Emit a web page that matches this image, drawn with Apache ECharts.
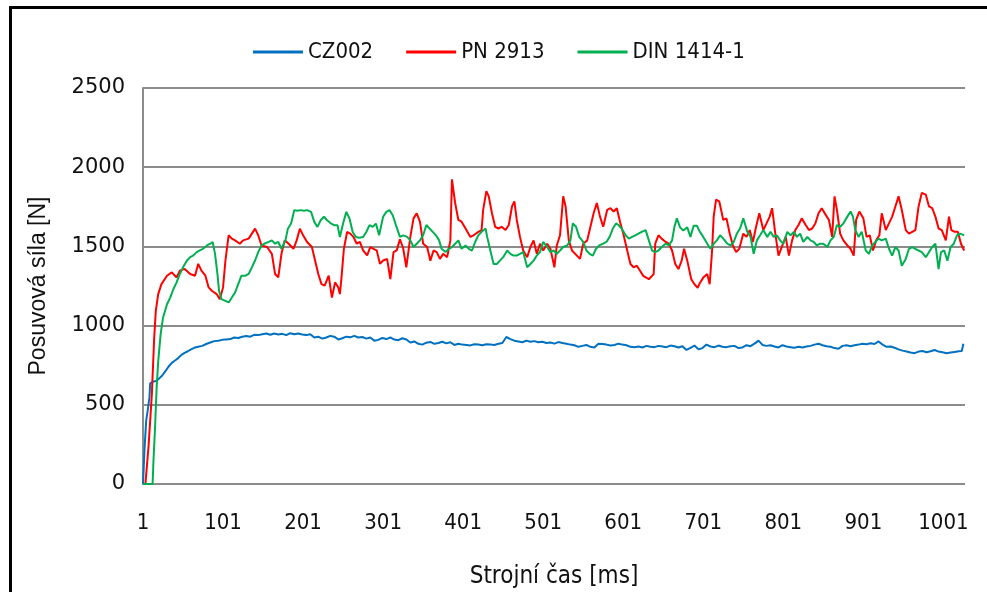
<!DOCTYPE html>
<html>
<head>
<meta charset="utf-8">
<script src="https://cdn.jsdelivr.net/npm/echarts@6/dist/echarts.min.js"></script>
<style>
html,body{margin:0;padding:0;background:#fff;}
#chart{width:987px;height:592px;}
</style>
</head>
<body>
<div id="chart"></div>
<script>
// Data (time in ms, force in N)
const seriesNames = ["CZ002", "PN 2913", "DIN 1414-1"];
const xTickLabels = ["1","101","201","301","401","501","601","701","801","901","1001"];
const yTickLabels = [0, 500, 1000, 1500, 2000, 2500];

const czTime = [1,3,5,7,9,10,13,17,21,25,29,33,37,41,45,49,53,57,61,65,70,75,80,85,90,95,100,105,110,115,120,125,130,135,140,145,150,155,160,165,170,175,180,185,190,195,200,205,210,215,220,225,230,235,240,245,250,255,260,265,270,275,280,285,290,295,300,305,310,315,320,325,330,335,340,345,350,355,360,365,370,375,380,385,390,395,400,405,410,415,420,425,430,435,440,445,450,455,460,465,470,475,480,485,490,495,500,505,510,515,520,525,530,535,540,545,550,555,560,565,570,575,580,585,590,595,600,605,610,615,620,625,630,635,640,645,650,655,660,665,670,675,680,685,690,695,700,705,710,715,720,725,730,735,740,745,750,755,760,765,770,775,780,785,790,795,800,805,810,815,820,825,830,835,840,845,850,855,860,865,870,875,880,885,890,895,900,905,910,915,920,925,930,935,940,945,950,955,960,965,970,975,980,985,990,995,1000,1005,1010,1015,1020,1024,1026];
const czForce = [0,230,400,470,545,635,645,650,665,685,712,742,765,780,795,815,828,838,850,860,866,872,884,893,902,905,910,913,915,925,922,930,934,930,942,940,946,950,942,950,944,948,940,952,945,950,944,940,946,925,930,918,925,935,930,912,920,930,926,935,925,928,918,925,905,910,922,915,925,912,908,920,912,893,900,885,880,892,897,885,890,898,888,895,878,885,880,878,875,882,880,876,882,880,878,885,890,928,915,905,900,895,905,898,902,895,898,890,893,886,896,890,886,880,876,866,872,878,866,862,886,884,880,874,878,886,880,876,866,864,868,862,872,866,864,872,868,864,874,870,862,870,846,860,874,850,858,880,868,864,874,866,864,870,872,858,862,876,870,886,905,878,872,876,868,862,876,868,864,860,866,862,868,872,880,886,876,870,866,858,854,872,876,870,876,880,886,882,888,884,900,880,866,868,860,850,842,836,830,826,836,840,832,838,846,836,832,826,830,834,838,840,885];

const pnTime = [1,4,8,12,15,17,20,24,31,37,43,47,53,60,66,70,74,79,83,87,93,97,101,104,108,112,116,122,126,133,141,145,149,156,162,166,170,174,178,183,189,193,197,201,206,212,216,220,224,228,233,237,241,245,247,249,252,256,260,264,268,272,276,281,285,289,293,297,301,306,310,314,318,322,326,330,335,339,343,347,351,356,360,364,368,372,376,381,385,387,391,395,399,404,410,414,420,424,426,430,433,437,441,445,449,454,458,462,465,468,472,476,481,485,489,493,497,501,506,510,515,518,522,526,529,533,537,541,547,551,556,560,564,568,572,576,581,585,589,593,597,601,606,610,614,618,622,626,633,639,641,645,649,654,658,662,666,670,674,677,681,686,690,694,697,701,706,709,712,714,717,721,726,730,734,738,742,746,751,755,759,763,767,771,776,780,784,787,791,795,799,804,808,812,816,820,824,829,833,837,841,845,849,854,858,862,865,868,872,876,881,885,889,892,896,901,905,909,913,917,921,924,929,933,937,941,945,949,954,958,962,966,970,974,979,983,987,991,995,999,1004,1008,1011,1015,1019,1023,1027];
const pnForce = [0,0,244,562,923,1093,1199,1262,1315,1336,1304,1347,1358,1326,1315,1390,1347,1315,1241,1220,1199,1167,1241,1411,1570,1549,1538,1517,1538,1549,1612,1570,1506,1496,1453,1326,1304,1453,1538,1517,1485,1538,1612,1570,1528,1496,1411,1326,1262,1252,1315,1177,1273,1241,1199,1304,1485,1591,1581,1559,1517,1528,1475,1443,1496,1485,1475,1390,1411,1421,1294,1464,1475,1545,1490,1368,1560,1677,1709,1656,1517,1496,1410,1474,1464,1421,1453,1432,1538,1923,1774,1667,1656,1613,1560,1570,1592,1603,1731,1848,1816,1709,1624,1613,1624,1603,1635,1752,1784,1667,1560,1474,1432,1496,1538,1453,1517,1474,1517,1485,1368,1506,1570,1816,1752,1538,1474,1453,1421,1517,1538,1624,1709,1774,1688,1624,1731,1741,1720,1741,1656,1581,1474,1389,1368,1378,1346,1314,1293,1325,1517,1570,1549,1528,1517,1474,1389,1357,1410,1485,1410,1293,1261,1239,1271,1303,1325,1261,1474,1688,1795,1784,1667,1677,1581,1506,1464,1485,1581,1560,1603,1528,1624,1709,1603,1645,1688,1741,1581,1442,1496,1560,1442,1538,1603,1635,1677,1635,1603,1613,1645,1709,1741,1699,1667,1560,1816,1731,1581,1538,1506,1485,1442,1667,1720,1677,1560,1570,1474,1538,1570,1709,1603,1645,1688,1752,1816,1731,1603,1581,1592,1603,1752,1838,1827,1752,1741,1688,1613,1603,1538,1688,1603,1592,1592,1517,1474];

const dinTime = [1,13,14,16,18,20,23,26,31,35,39,43,47,51,56,60,64,68,72,76,81,85,88,91,94,96,99,104,108,112,116,120,124,129,133,137,141,145,149,154,158,162,166,170,174,179,182,186,190,194,198,202,206,211,215,219,223,227,231,236,240,244,247,251,255,259,263,267,271,276,280,284,288,292,296,301,305,309,313,317,322,326,331,335,339,343,347,351,355,359,363,367,371,374,379,383,387,391,395,399,404,408,412,416,420,424,429,431,435,439,443,447,451,456,460,464,468,472,476,481,485,489,493,497,501,506,510,514,518,522,526,531,535,538,542,546,551,555,559,563,567,571,576,580,584,588,592,595,599,604,608,612,616,620,624,629,633,637,641,645,649,654,658,662,665,668,672,676,681,685,689,693,697,701,706,710,714,718,722,726,731,735,739,743,747,751,756,760,764,768,772,776,781,785,789,793,797,801,806,810,814,818,822,826,831,835,839,843,847,851,856,860,864,868,872,876,881,885,888,891,895,899,904,908,912,916,920,924,929,933,937,941,945,949,954,958,962,966,970,974,979,983,987,991,995,998,1002,1006,1010,1014,1018,1022,1027];
const dinForce = [0,0,138,350,605,774,944,1050,1135,1177,1231,1273,1326,1368,1411,1432,1443,1464,1475,1485,1506,1517,1528,1453,1326,1220,1167,1156,1146,1177,1209,1262,1315,1315,1326,1368,1411,1464,1506,1521,1528,1538,1517,1528,1485,1538,1612,1644,1729,1725,1729,1725,1729,1718,1655,1623,1665,1687,1665,1644,1634,1634,1559,1644,1718,1676,1591,1559,1555,1559,1591,1634,1623,1644,1570,1687,1718,1729,1697,1634,1560,1570,1560,1538,1496,1517,1538,1570,1635,1613,1592,1570,1538,1485,1464,1485,1496,1517,1538,1485,1506,1485,1474,1528,1570,1592,1613,1560,1474,1389,1389,1410,1432,1474,1453,1442,1442,1453,1464,1368,1389,1410,1442,1464,1528,1496,1464,1474,1453,1474,1496,1506,1538,1645,1624,1560,1528,1474,1453,1442,1485,1506,1517,1528,1560,1613,1645,1635,1613,1570,1549,1560,1570,1581,1592,1603,1538,1474,1464,1474,1496,1517,1506,1538,1624,1677,1620,1600,1620,1560,1630,1630,1590,1560,1517,1485,1517,1538,1570,1549,1517,1506,1528,1581,1613,1677,1592,1560,1453,1538,1570,1603,1560,1592,1560,1570,1538,1517,1592,1570,1592,1560,1581,1528,1560,1538,1528,1506,1517,1517,1496,1538,1560,1635,1624,1645,1688,1720,1688,1603,1560,1592,1474,1453,1506,1528,1549,1538,1549,1485,1442,1496,1474,1378,1421,1485,1496,1485,1474,1464,1432,1464,1496,1517,1357,1464,1474,1410,1496,1517,1570,1581,1570];

function pairs(times, vals) {
  return times.map((t, i) => [t - 1, vals[i]]);
}

const chart = echarts.init(document.getElementById('chart'), null, {renderer: 'canvas'});
const narrow = '"Liberation Sans Narrow", "DejaVu Sans Condensed", "Liberation Sans", sans-serif';
const colors = ['#0070C0', '#FF0000', '#00B050'];

chart.setOption({
  animation: false,
  backgroundColor: '#ffffff',
  color: colors,
  graphic: [{
    type: 'rect', silent: true, z: -1,
    shape: {x: 10.5, y: 7.5, width: 1200, height: 800},
    style: {fill: 'none', stroke: '#000', lineWidth: 3}
  }],
  legend: {
    left: 248, top: 36,
    icon: 'rect', itemWidth: 50, itemHeight: 3, itemGap: 33,
    textStyle: {fontFamily: narrow, fontSize: 22, color: '#111'},
    data: seriesNames
  },
  grid: {left: 143, top: 88, width: 822, height: 396, containLabel: false, outerBoundsMode: 'none'},
  xAxis: {
    type: 'value', min: 0, max: 1027, interval: 100,
    name: 'Strojní čas [ms]', nameLocation: 'middle', nameGap: 81,
    nameTextStyle: {fontFamily: narrow, fontSize: 24, color: '#111'},
    axisLine: {show: false}, axisTick: {show: false}, splitLine: {show: false},
    axisLabel: {
      showMaxLabel: false, margin: 28,
      fontFamily: narrow, fontSize: 22, color: '#111',
      formatter: v => xTickLabels[Math.round(v / 100)] || ''
    }
  },
  yAxis: {
    type: 'value', min: yTickLabels[0], max: yTickLabels[yTickLabels.length - 1], interval: 500,
    name: 'Posuvová síla [N]', nameLocation: 'middle', nameGap: 93,
    nameTextStyle: {fontFamily: '"Liberation Sans", Arial, sans-serif', fontSize: 23, color: '#111'},
    axisLine: {show: true, lineStyle: {color: '#8c8c8c', width: 2}},
    axisTick: {show: false},
    splitLine: {show: true, lineStyle: {color: '#8c8c8c', width: 2}},
    axisLabel: {margin: 18, fontFamily: '"DejaVu Sans", Verdana, sans-serif', fontSize: 21, color: '#111',
      formatter: v => String(v)}
  },
  series: [
    {name: seriesNames[0], type: 'line', data: pairs(czTime, czForce), showSymbol: false, symbol: 'none', lineStyle: {width: 2, color: colors[0]}, z: 3},
    {name: seriesNames[1], type: 'line', data: pairs(pnTime, pnForce), showSymbol: false, symbol: 'none', lineStyle: {width: 2, color: colors[1]}, z: 4},
    {name: seriesNames[2], type: 'line', data: pairs(dinTime, dinForce), showSymbol: false, symbol: 'none', lineStyle: {width: 2, color: colors[2]}, z: 5}
  ]
});
</script>
</body>
</html>
